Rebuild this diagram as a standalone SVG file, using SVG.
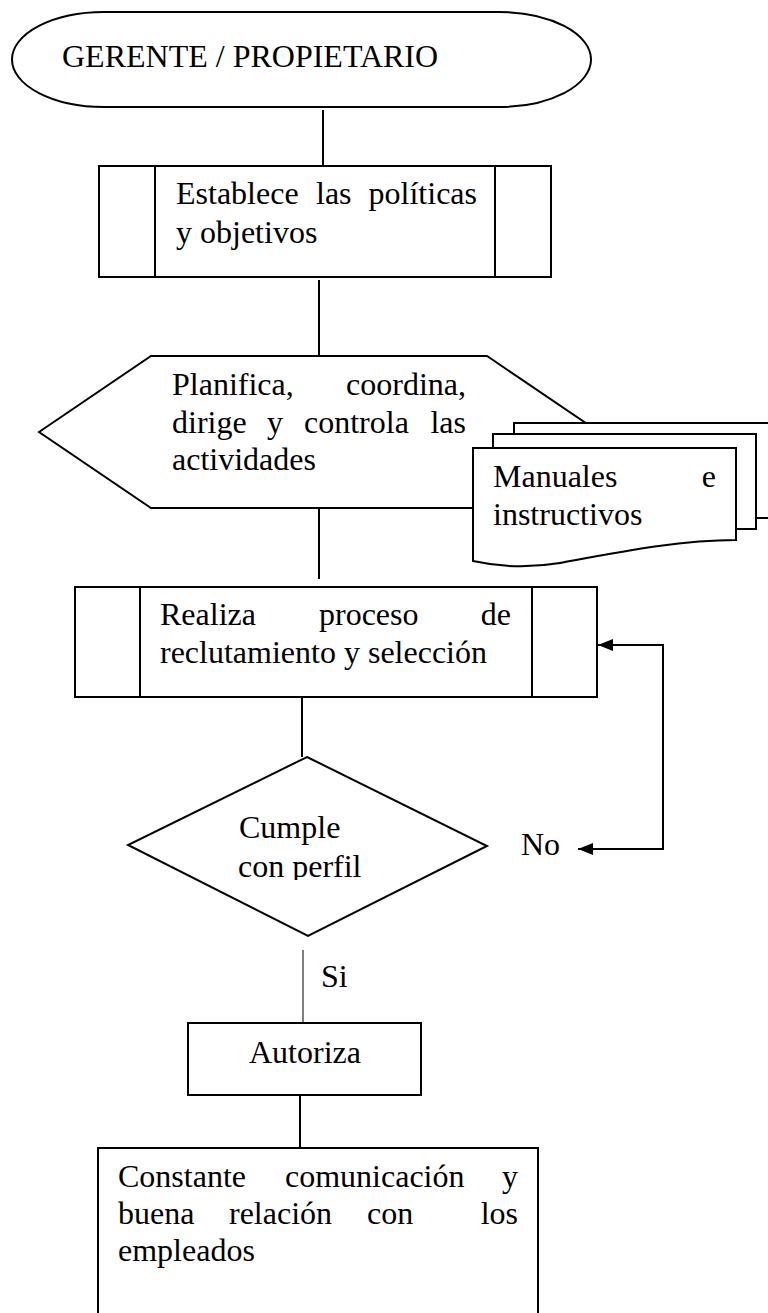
<svg xmlns="http://www.w3.org/2000/svg" width="768" height="1313" viewBox="0 0 768 1313">
<style>
.s{fill:#fff;stroke:#000;stroke-width:2}
.ln{fill:none;stroke:#000;stroke-width:2}
.t{font-family:"Liberation Serif","Times New Roman",serif;font-size:32px;fill:#000}
</style>
<defs>
<marker id="ah" viewBox="0 0 15 12" refX="15" refY="6" markerWidth="15" markerHeight="12" markerUnits="userSpaceOnUse" orient="auto-start-reverse">
<path d="M0,0 L15,6 L0,12 Z" fill="#000"/>
</marker>
<clipPath id="dclip"><rect x="0" y="0" width="768" height="880"/></clipPath>
</defs>
<rect width="768" height="1313" fill="#fff"/>

<g id="connectors">
<line class="ln" x1="323" y1="110" x2="323" y2="166"/>
<line class="ln" x1="319" y1="280" x2="319" y2="356"/>
<line class="ln" x1="319" y1="508" x2="319" y2="579"/>
<line class="ln" x1="302" y1="697" x2="302" y2="757"/>
<line x1="303" y1="950" x2="303" y2="1023" stroke="#555" stroke-width="1.5"/>
<line class="ln" x1="300" y1="1091" x2="300" y2="1148"/>
<polyline class="ln" points="578,849 663,849 663,645 598,645" marker-start="url(#ah)" marker-end="url(#ah)"/>
</g>

<g id="n-gerente">
<rect class="s" x="12" y="12" width="579" height="95" rx="92" ry="47.5"/>
<text class="t" x="62" y="67">GERENTE / PROPIETARIO</text>
</g>

<g id="n-establece">
<rect class="s" x="99" y="166" width="452" height="111"/>
<line class="ln" x1="155" y1="166" x2="155" y2="277"/>
<line class="ln" x1="495" y1="166" x2="495" y2="277"/>
<text class="t" y="204"><tspan x="176">Establece</tspan><tspan x="316">las</tspan><tspan x="477" text-anchor="end">políticas</tspan></text>
<text class="t" x="176" y="243">y objetivos</text>
</g>

<g id="n-planifica">
<polygon class="s" points="39,432 151,356 487,356 599,432 487,508 151,508"/>
<text class="t" y="395"><tspan x="172">Planifica,</tspan><tspan x="466" text-anchor="end">coordina,</tspan></text>
<text class="t" y="433"><tspan x="172">dirige</tspan><tspan x="267">y</tspan><tspan x="304">controla</tspan><tspan x="466" text-anchor="end">las</tspan></text>
<text class="t" x="172" y="470">actividades</text>
</g>

<g id="n-manuales">
<rect class="s" x="514" y="423" width="300" height="95" stroke-width="2.5"/>
<rect class="s" x="493" y="434" width="263" height="95" stroke-width="2.5"/>
<path class="s" stroke-width="2.5" d="M473,448 H736 V540 C680,540 620,552 560,563 C530,568 500,567 473,561 Z"/>
<text class="t" y="487"><tspan x="493">Manuales</tspan><tspan x="716" text-anchor="end">e</tspan></text>
<text class="t" x="493" y="525">instructivos</text>
</g>

<g id="n-realiza">
<rect class="s" x="75" y="587" width="522" height="110"/>
<line class="ln" x1="140" y1="587" x2="140" y2="697"/>
<line class="ln" x1="532" y1="587" x2="532" y2="697"/>
<text class="t" y="625"><tspan x="160">Realiza</tspan><tspan x="319">proceso</tspan><tspan x="511" text-anchor="end">de</tspan></text>
<text class="t" x="160" y="663">reclutamiento y selección</text>
</g>

<g id="n-cumple">
<polygon class="s" points="307,757 487,846 308,936 128,845"/>
<text class="t" x="239" y="838">Cumple</text>
<text class="t" x="238" y="877" clip-path="url(#dclip)">con perfil</text>
</g>

<g id="labels">
<text class="t" x="521" y="855">No</text>
<text class="t" x="321" y="987">Si</text>
</g>

<g id="n-autoriza">
<rect class="s" x="188" y="1023" width="233" height="72"/>
<text class="t" x="249" y="1063">Autoriza</text>
</g>

<g id="n-constante">
<rect class="s" x="98" y="1148" width="440" height="190"/>
<text class="t" y="1187"><tspan x="118">Constante</tspan><tspan x="285">comunicación</tspan><tspan x="518" text-anchor="end">y</tspan></text>
<text class="t" y="1224"><tspan x="118">buena</tspan><tspan x="229">relación</tspan><tspan x="367">con</tspan><tspan x="518" text-anchor="end">los</tspan></text>
<text class="t" x="118" y="1261">empleados</text>
</g>
</svg>
